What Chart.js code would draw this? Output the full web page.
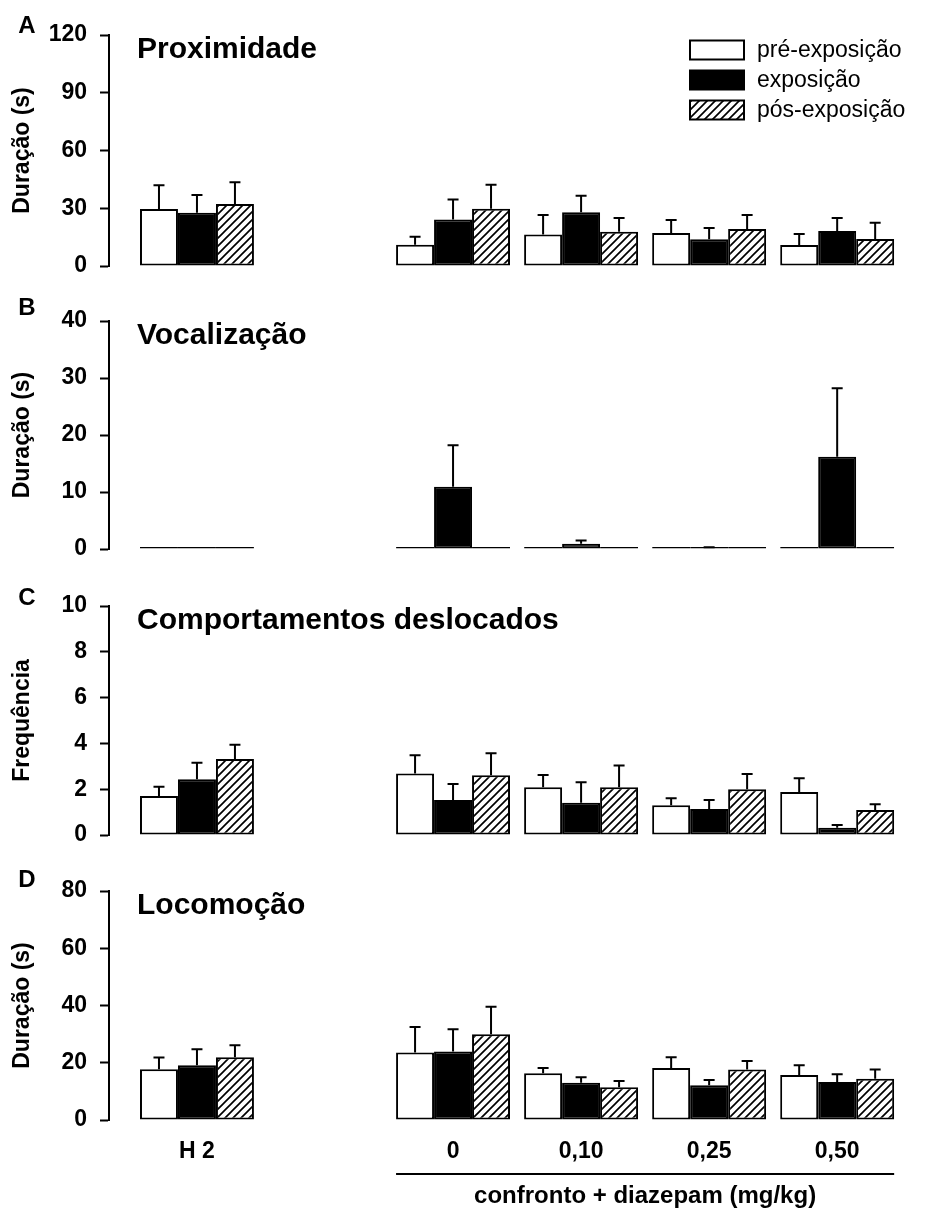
<!DOCTYPE html>
<html>
<head>
<meta charset="utf-8">
<script src="https://cdn.jsdelivr.net/npm/chart.js@4.4.1/dist/chart.umd.min.js"></script>
<style>
  html, body { margin: 0; padding: 0; background: #fff; }
  #wrap { position: relative; width: 928px; height: 1213px; }
  #wrap canvas { position: absolute; left: 0; }
</style>
</head>
<body>
<div id="wrap">
  <canvas id="panelA" width="928" height="285" style="top:0px"></canvas>
  <canvas id="panelB" width="928" height="285" style="top:285px"></canvas>
  <canvas id="panelC" width="928" height="285" style="top:570px"></canvas>
  <canvas id="panelD" width="928" height="358" style="top:855px"></canvas>
</div>
<script>
// Groups (H 2 control, then confronto + diazepam doses in mg/kg)
const groups = ['H 2', '0', '0,10', '0,25', '0,50'];
// Slots along the x axis: an empty slot separates H 2 from the dose groups
const xSlots = ['H 2', '', '0', '0,10', '0,25', '0,50'];
const seriesNames = ['pré-exposição', 'exposição', 'pós-exposição'];
const doseAxisLabel = 'confronto + diazepam (mg/kg)';

// A - Proximidade, duração (s): means and SEM
const proxPre    = [29.6, 11.1, 16.4, 17.1, 10.9];
const proxPreErr = [12.3,  4.1, 10.1,  6.8,  5.7];
const proxExp    = [27.7, 24.2, 27.9, 13.9, 18.2];
const proxExpErr = [ 9.2, 10.4,  8.6,  5.8,  6.7];
const proxPos    = [32.2, 29.8, 17.8, 19.2, 14.0];
const proxPosErr = [11.3, 12.4,  7.1,  7.3,  8.5];

// B - Vocalização, duração (s)
const vocPre    = [0, 0, 0, 0, 0];
const vocPreErr = [0, 0, 0, 0, 0];
const vocExp    = [0, 10.9, 0.9, 0.2, 16.2];
const vocExpErr = [0,  7.3, 0.6, 0.1, 12.0];
const vocPos    = [0, 0, 0, 0, 0];
const vocPosErr = [0, 0, 0, 0, 0];

// C - Comportamentos deslocados, frequência
const deslPre    = [1.70, 2.69, 2.08, 1.30, 1.88];
const deslPreErr = [0.41, 0.79, 0.54, 0.30, 0.60];
const deslExp    = [2.43, 1.53, 1.41, 1.14, 0.32];
const deslExpErr = [0.73, 0.70, 0.89, 0.39, 0.12];
const deslPos    = [3.32, 2.61, 2.08, 2.00, 1.09];
const deslPosErr = [0.62, 0.96, 0.95, 0.66, 0.25];

// D - Locomoção, duração (s)
const locPre    = [17.7, 23.6, 16.3, 18.2, 15.7];
const locPreErr = [ 4.1,  8.9,  1.9,  3.7,  3.4];
const locExp    = [19.1, 23.9, 13.0, 12.1, 13.3];
const locExpErr = [ 5.6,  7.8,  1.9,  1.9,  2.7];
const locPos    = [21.9, 30.0, 11.4, 17.6, 14.4];
const locPosErr = [ 4.2,  9.6,  2.2,  3.0,  3.2];

// Y axis ranges
const proxTicks = { max: 120, step: 30 };
const vocTicks  = { max: 40,  step: 10 };
const deslTicks = { max: 10,  step: 2 };
const locTicks  = { max: 80,  step: 20 };

const FONT = "'Liberation Sans', Arial, Helvetica, sans-serif";
Chart.defaults.font.family = FONT;
Chart.defaults.color = '#000';

function makeHatch(ctx) {
  const s = 8;
  const c = document.createElement('canvas');
  c.width = s; c.height = s;
  const g = c.getContext('2d');
  g.fillStyle = '#fff';
  g.fillRect(0, 0, s, s);
  g.strokeStyle = '#000';
  g.lineWidth = 1.7;
  g.beginPath();
  g.moveTo(0, s); g.lineTo(s, 0);
  g.moveTo(-s / 2, s / 2); g.lineTo(s / 2, -s / 2);
  g.moveTo(s / 2, s * 1.5); g.lineTo(s * 1.5, s / 2);
  g.stroke();
  return ctx.createPattern(c, 'repeat');
}

// Upward SEM whiskers with a cap
const errorBars = {
  id: 'errorBars',
  afterDatasetsDraw(chart) {
    const ctx = chart.ctx;
    const ys = chart.scales.y;
    chart.data.datasets.forEach((ds, di) => {
      const meta = chart.getDatasetMeta(di);
      meta.data.forEach((bar, i) => {
        const e = ds.errors[i];
        if (!e) return;
        const v = ds.data[i].y;
        const yTop = ys.getPixelForValue(v + e);
        const yBar = ys.getPixelForValue(v);
        ctx.save();
        ctx.strokeStyle = '#000';
        ctx.lineWidth = 2;
        ctx.beginPath();
        ctx.moveTo(bar.x, yBar);
        ctx.lineTo(bar.x, yTop);
        ctx.moveTo(bar.x - 5.5, yTop);
        ctx.lineTo(bar.x + 5.5, yTop);
        ctx.stroke();
        ctx.restore();
      });
    });
  }
};

function panelText(letter, letterY, title) {
  return {
    id: 'panelText',
    afterDraw(chart) {
      const ctx = chart.ctx;
      const area = chart.chartArea;
      ctx.save();
      ctx.fillStyle = '#000';
      ctx.textBaseline = 'middle';
      ctx.font = `bold 24px ${FONT}`;
      ctx.textAlign = 'center';
      ctx.fillText(letter, 27, letterY);
      ctx.font = `bold 30px ${FONT}`;
      ctx.textAlign = 'left';
      ctx.fillText(title, area.left + 28, area.top + 15);
      ctx.restore();
    }
  };
}

const legendBox = {
  id: 'legendBox',
  afterDraw(chart) {
    const ctx = chart.ctx;
    const area = chart.chartArea;
    const bx = area.right - 224, bw = 54, bh = 19;
    ctx.save();
    ctx.font = `23px ${FONT}`;
    ctx.textBaseline = 'middle';
    ctx.textAlign = 'left';
    chart.data.datasets.forEach((ds, i) => {
      const cy = area.top + 15 + i * 30;
      ctx.fillStyle = ds.backgroundColor;
      ctx.fillRect(bx, cy - bh / 2, bw, bh);
      ctx.strokeStyle = '#000';
      ctx.lineWidth = 2;
      ctx.strokeRect(bx, cy - bh / 2, bw, bh);
      ctx.fillStyle = '#000';
      ctx.fillText(ds.label, bx + bw + 13, cy + 1);
    });
    ctx.restore();
  }
};

const doseBracket = {
  id: 'doseBracket',
  afterDraw(chart) {
    const ctx = chart.ctx;
    const first = chart.getDatasetMeta(0).data[groups.indexOf('0')];
    const last = chart.getDatasetMeta(2).data[groups.length - 1];
    const x1 = first.x - first.width / 2;
    const x2 = last.x + last.width / 2;
    const yl = chart.chartArea.bottom + 54;
    ctx.save();
    ctx.strokeStyle = '#000';
    ctx.lineWidth = 2;
    ctx.beginPath();
    ctx.moveTo(x1, yl);
    ctx.lineTo(x2, yl);
    ctx.stroke();
    ctx.fillStyle = '#000';
    ctx.font = `bold 24px ${FONT}`;
    ctx.textAlign = 'center';
    ctx.textBaseline = 'middle';
    ctx.fillText(doseAxisLabel, (x1 + x2) / 2, yl + 22);
    ctx.restore();
  }
};

function toPoints(vals) {
  return groups.map((g, i) => ({ x: xSlots.indexOf(g), y: vals[i] }));
}

function buildPanel(cfg) {
  const canvas = document.getElementById(cfg.id);
  const ctx = canvas.getContext('2d');
  const fills = ['#ffffff', '#000000', makeHatch(ctx)];
  const series = [[cfg.pre, cfg.preErr], [cfg.exp, cfg.expErr], [cfg.pos, cfg.posErr]];
  const datasets = series.map(([vals, errs], i) => ({
    label: seriesNames[i],
    data: toPoints(vals),
    errors: errs,
    backgroundColor: fills[i],
    borderColor: '#000',
    borderWidth: 2,
    borderSkipped: false,
    minBarLength: 2,
    categoryPercentage: 0.89,
    barPercentage: 1.0
  }));
  const plugins = [errorBars, panelText(cfg.letter, cfg.letterY, cfg.title)];
  if (cfg.legend) plugins.push(legendBox);
  if (cfg.xLabels) plugins.push(doseBracket);
  const showX = !!cfg.xLabels;

  return new Chart(ctx, {
    type: 'bar',
    data: { datasets },
    options: {
      responsive: false,
      animation: false,
      events: [],
      layout: { padding: { top: cfg.padTop, bottom: cfg.padBottom, left: 0, right: 14 } },
      plugins: { legend: { display: false }, tooltip: { enabled: false } },
      scales: {
        x: {
          type: 'linear',
          offset: false,
          min: -0.687,
          max: 5.6,
          display: showX,
          grid: { display: false, drawTicks: false, offset: false },
          border: { display: false },
          afterBuildTicks: (s) => { s.ticks = groups.map(g => ({ value: xSlots.indexOf(g) })); },
          afterFit: (s) => { s.height = showX ? 93 : 0; },
          ticks: {
            display: showX,
            autoSkip: false,
            maxRotation: 0,
            padding: 18,
            color: '#000',
            font: { size: 23, weight: 'bold' },
            callback: (v) => xSlots[v]
          }
        },
        y: {
          min: 0,
          max: cfg.ticks.max,
          afterFit: (s) => { s.width = 109; s.paddingTop = 12; s.paddingBottom = 12; },
          ticks: {
            stepSize: cfg.ticks.step,
            autoSkip: false,
            padding: 13,
            color: '#000',
            font: { size: 23, weight: 'bold' }
          },
          grid: {
            display: true,
            drawOnChartArea: false,
            drawTicks: true,
            tickLength: 9,
            tickWidth: 2,
            tickColor: '#000'
          },
          border: { display: true, color: '#000', width: 2 },
          title: {
            display: true,
            text: cfg.yTitle,
            color: '#000',
            font: { size: 23, weight: 'bold' },
            padding: { top: 9, bottom: 0 }
          }
        }
      }
    },
    plugins
  });
}

buildPanel({
  id: 'panelA', letter: 'A', letterY: 26, title: 'Proximidade', yTitle: 'Duração (s)',
  ticks: proxTicks, padTop: 35, padBottom: 19, legend: true,
  pre: proxPre, preErr: proxPreErr, exp: proxExp, expErr: proxExpErr, pos: proxPos, posErr: proxPosErr
});
buildPanel({
  id: 'panelB', letter: 'B', letterY: 23, title: 'Vocalização', yTitle: 'Duração (s)',
  ticks: vocTicks, padTop: 36, padBottom: 21,
  pre: vocPre, preErr: vocPreErr, exp: vocExp, expErr: vocExpErr, pos: vocPos, posErr: vocPosErr
});
buildPanel({
  id: 'panelC', letter: 'C', letterY: 28, title: 'Comportamentos deslocados', yTitle: 'Frequência',
  ticks: deslTicks, padTop: 36, padBottom: 20,
  pre: deslPre, preErr: deslPreErr, exp: deslExp, expErr: deslExpErr, pos: deslPos, posErr: deslPosErr
});
buildPanel({
  id: 'panelD', letter: 'D', letterY: 25, title: 'Locomoção', yTitle: 'Duração (s)',
  ticks: locTicks, padTop: 36, padBottom: 0, xLabels: true,
  pre: locPre, preErr: locPreErr, exp: locExp, expErr: locExpErr, pos: locPos, posErr: locPosErr
});
</script>
</body>
</html>
